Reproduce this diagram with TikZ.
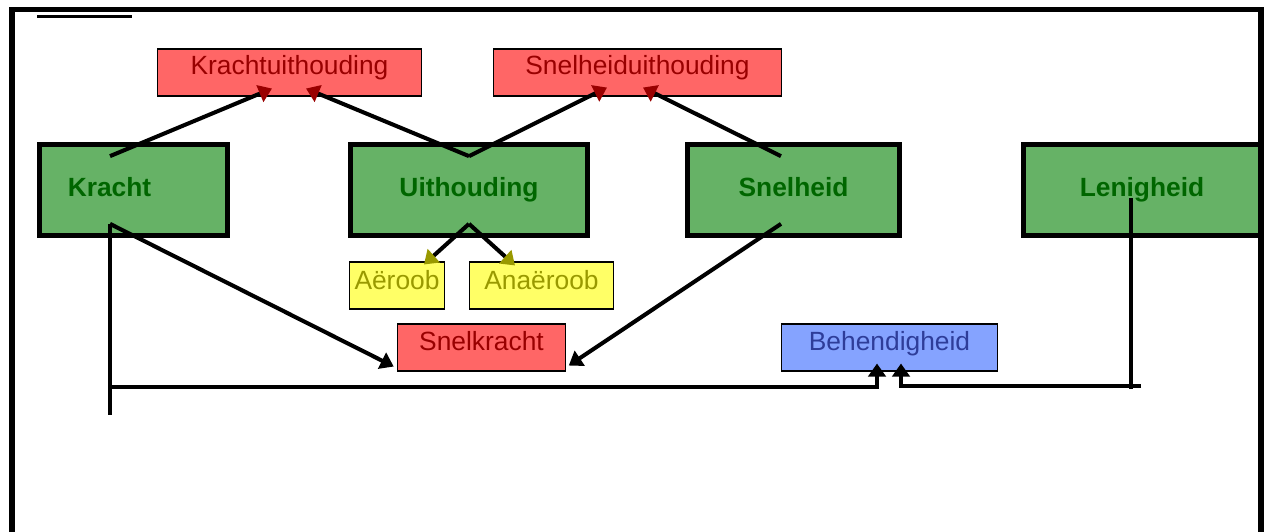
\documentclass[tikz,border=0pt]{standalone}
\usepackage{fontspec}
\setmainfont{Liberation Sans}
\usetikzlibrary{arrows.meta}
\definecolor{groen}{HTML}{66B266}
\definecolor{donkergroen}{HTML}{006600}
\definecolor{rood}{HTML}{FF6666}
\definecolor{donkerrood}{HTML}{990000}
\definecolor{geel}{HTML}{FFFF66}
\definecolor{olijf}{HTML}{999900}
\definecolor{blauw}{HTML}{85A3FF}
\definecolor{donkerblauw}{HTML}{2E3D99}
\begin{document}
\begin{tikzpicture}[x=0.02cm, y=-0.02cm,
   every node/.style={draw, inner sep=0pt, font=\fontsize{15}{18}\selectfont, text height=11pt},
   hoofd/.style={line width=2.7pt, fill=groen, text=donkergroen,
                 font=\bfseries\fontsize{15}{18}\selectfont, minimum height=1.82cm, text depth=3.6pt},
   sub/.style={line width=0.9pt, minimum height=0.95cm},
   combi/.style={sub, fill=rood, text=donkerrood, text depth=9.2pt},
   snelk/.style={sub, fill=rood, text=donkerrood, text depth=7.6pt},
   energie/.style={sub, fill=geel, text=olijf, text depth=7pt},
   behend/.style={sub, fill=blauw, text=donkerblauw, text depth=7.6pt},
   lijn/.style={line width=2.3pt},
   pijl/.style={lijn, -{Triangle[length=7.5pt, width=10pt, color=#1]}},
   pijl/.default=black]

\clip (0,0) rectangle (1267,531);
\draw[line width=3pt] (12,9.5) rectangle (1261,600);
\draw[line width=1.3pt] (37,16.5) -- (132,16.5);

\node[hoofd, minimum width=3.76cm] (kracht) at (133.5,190) {Kracht\hspace*{0.96cm}};
\node[hoofd, minimum width=4.74cm] (uit) at (469,190) {Uithouding};
\node[hoofd, minimum width=4.24cm] (snel) at (793.5,190) {Snelheid};
\node[hoofd, minimum width=4.74cm] (len) at (1142,190) {Lenigheid};

\node[combi, minimum width=5.28cm] (kuit) at (289.5,72.5) {Krachtuithouding};
\node[combi, minimum width=5.76cm] (suit) at (637.5,72.5) {Snelheiduithouding};
\node[energie, minimum width=1.9cm] (aer) at (397,285.5) {Aëroob};
\node[energie, minimum width=2.88cm] (ana) at (541.5,285.5) {Anaëroob};
\node[snelk, minimum width=3.36cm] (snk) at (481.5,347.5) {Snelkracht};
\node[behend, minimum width=4.32cm] (beh) at (889.5,347.5) {Behendigheid};

\draw[pijl=donkerrood] ([shift={(-23.5,14)}]kracht.north) -- ([shift={(-17.5,-8.5)}]kuit.south);
\draw[pijl=donkerrood] ([shift={(0,14)}]uit.north) -- ([shift={(16.5,-8.5)}]kuit.south);
\draw[pijl=donkerrood] ([shift={(0,14)}]uit.north) -- ([shift={(-30.5,-9.5)}]suit.south);
\draw[pijl=donkerrood] ([shift={(-12.5,14)}]snel.north) -- ([shift={(5.5,-9.5)}]suit.south);

\draw[pijl=olijf] ([shift={(0,-14)}]uit.south) -- ([shift={(27,3.5)}]aer.north);
\draw[pijl=olijf] ([shift={(0,-14)}]uit.south) -- ([shift={(-26.5,4.5)}]ana.north);

\draw[pijl] ([shift={(-23.5,-14)}]kracht.south) -- ([shift={(-3,-5.5)}]snk.south west);
\draw[pijl] ([shift={(-12.5,-14)}]snel.south) -- ([shift={(2.5,-6.5)}]snk.south east);

\draw[lijn] ([shift={(-23.5,-14)}]kracht.south) -- ++(0,191);
\draw[pijl] ([shift={(-23.5,149)}]kracht.south) -| ([shift={(-12.5,-8.5)}]beh.south);
\draw[lijn] ([shift={(-11,8)}]len.center) -- ++(0,191);
\draw[pijl] ([shift={(-1,196)}]len.center) -| ([shift={(11.5,-8.5)}]beh.south);

\end{tikzpicture}
\end{document}
